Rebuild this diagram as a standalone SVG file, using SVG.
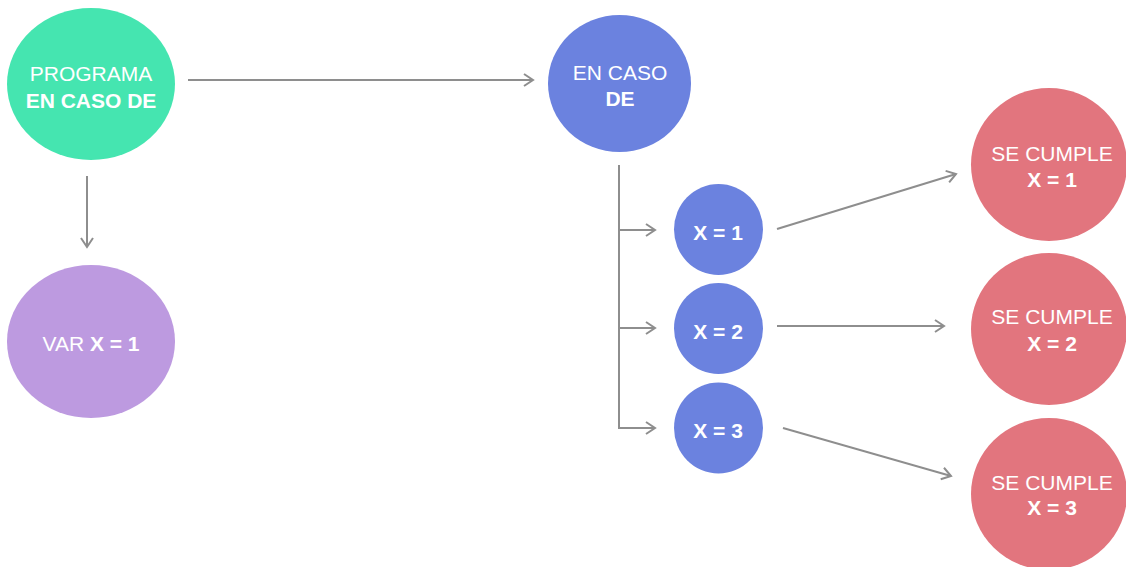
<svg xmlns="http://www.w3.org/2000/svg" width="1126" height="567" viewBox="0 0 1126 567">
  <style>
    .lbl { font-family: "Liberation Sans", Arial, sans-serif; font-size: 21px; fill: #ffffff; text-anchor: middle; }
    .b { font-weight: bold; }
    .edge { stroke: #8e8e8e; stroke-width: 2; fill: none; marker-end: url(#chev); }
    .green { fill: #45e5b0; }
    .blue { fill: #6b82df; }
    .purple { fill: #bd9ae0; }
    .red { fill: #e2757e; }
  </style>
  <defs>
    <marker id="chev" viewBox="-11 -8 13 16" refX="0" refY="0" markerWidth="13" markerHeight="16" markerUnits="userSpaceOnUse" orient="auto">
      <path d="M-9,-6 L0,0 L-9,6" stroke="#8e8e8e" stroke-width="2" fill="none"/>
    </marker>
  </defs>

  <!-- connectors -->
  <g id="connectors">
    <line class="edge" x1="188" y1="80" x2="533" y2="80"/>
    <line class="edge" x1="87" y1="176" x2="87" y2="247"/>
    <line x1="619" y1="165" x2="619" y2="429" stroke="#8e8e8e" stroke-width="2"/>
    <line class="edge" x1="618" y1="230" x2="655" y2="230"/>
    <line class="edge" x1="618" y1="328" x2="655" y2="328"/>
    <line class="edge" x1="618" y1="428" x2="655" y2="428"/>
    <line class="edge" x1="777" y1="229" x2="956" y2="174"/>
    <line class="edge" x1="777" y1="326" x2="944" y2="326"/>
    <line class="edge" x1="783" y1="428" x2="951" y2="476"/>
  </g>

  <!-- nodes -->
  <g id="programa">
    <ellipse class="green" cx="91" cy="84" rx="84" ry="76"/>
    <text class="lbl" x="91" y="81">PROGRAMA</text>
    <text class="lbl b" x="91" y="108">EN CASO DE</text>
  </g>
  <g id="var-x">
    <ellipse class="purple" cx="91" cy="341.5" rx="84" ry="76.5"/>
    <text class="lbl" x="91" y="351"><tspan>VAR </tspan><tspan class="b">X = 1</tspan></text>
  </g>
  <g id="en-caso">
    <ellipse class="blue" cx="619.5" cy="83.5" rx="71.5" ry="68.5"/>
    <text class="lbl" x="620" y="80">EN CASO</text>
    <text class="lbl b" x="620" y="106">DE</text>
  </g>
  <g id="caso-1">
    <ellipse class="blue" cx="718.5" cy="229.5" rx="44.5" ry="45.5"/>
    <text class="lbl b" x="718" y="240">X = 1</text>
  </g>
  <g id="caso-2">
    <ellipse class="blue" cx="718.5" cy="328.5" rx="44.5" ry="45.5"/>
    <text class="lbl b" x="718" y="339">X = 2</text>
  </g>
  <g id="caso-3">
    <ellipse class="blue" cx="718.5" cy="428" rx="44.5" ry="45.5"/>
    <text class="lbl b" x="718" y="438">X = 3</text>
  </g>
  <g id="cumple-1">
    <ellipse class="red" cx="1049" cy="164.5" rx="78" ry="76.5"/>
    <text class="lbl" x="1052" y="161">SE CUMPLE</text>
    <text class="lbl b" x="1052" y="187">X = 1</text>
  </g>
  <g id="cumple-2">
    <ellipse class="red" cx="1049" cy="329" rx="78" ry="76"/>
    <text class="lbl" x="1052" y="324">SE CUMPLE</text>
    <text class="lbl b" x="1052" y="351">X = 2</text>
  </g>
  <g id="cumple-3">
    <ellipse class="red" cx="1049" cy="494" rx="78" ry="76"/>
    <text class="lbl" x="1052" y="490">SE CUMPLE</text>
    <text class="lbl b" x="1052" y="515">X = 3</text>
  </g>
</svg>
